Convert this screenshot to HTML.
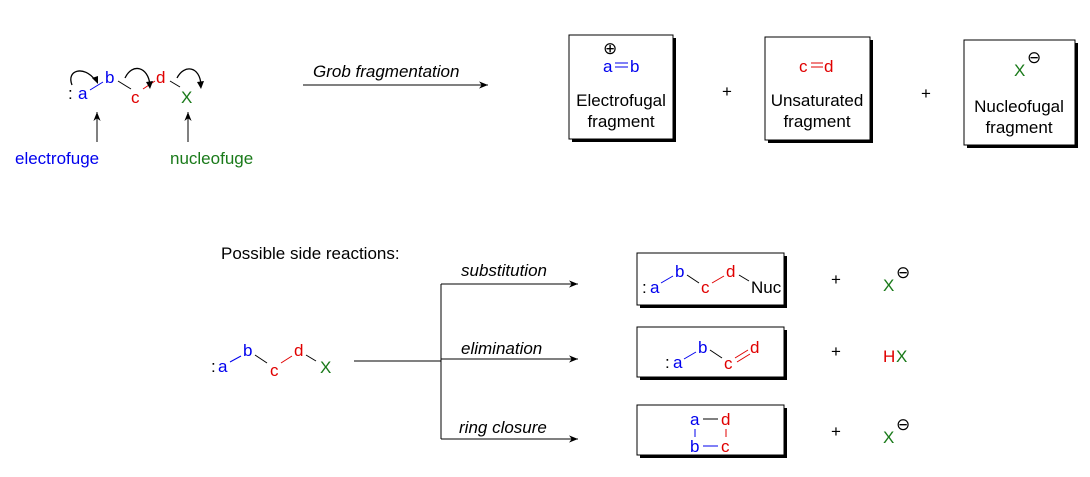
<!DOCTYPE html>
<html><head><style>body{margin:0;background:#fff}svg{display:block}text{font-family:"Liberation Sans",sans-serif;font-size:17px}</style></head><body>
<svg width="1090" height="477" viewBox="0 0 1090 477" xmlns="http://www.w3.org/2000/svg">
<defs><marker id="ah" viewBox="0 0 10 10" refX="10" refY="5" markerWidth="14" markerHeight="9" orient="auto" markerUnits="userSpaceOnUse"><path d="M0,1 L10,5 L0,9 L3,5Z" fill="#000"/></marker></defs>
<!-- top left molecule -->
<text x="68" y="99" fill="#000">:</text>
<text x="78" y="99" fill="#0000ee">a</text>
<text x="105" y="83" fill="#0000ee">b</text>
<text x="131" y="103" fill="#e00000">c</text>
<text x="156" y="83" fill="#e00000">d</text>
<text x="181" y="103" fill="#1a7a1a">X</text>
<line x1="90" y1="90" x2="103" y2="82" stroke="#0000ee" stroke-width="1"/>
<line x1="118" y1="81" x2="131" y2="89" stroke="#000" stroke-width="1"/>
<line x1="143" y1="89" x2="155" y2="81" stroke="#e00000" stroke-width="1"/>
<line x1="170" y1="81" x2="180" y2="87" stroke="#000" stroke-width="1"/>
<path d="M72,85 C66,70 84,65 95,80" fill="none" stroke="#000" stroke-width="1.3"/><path d="M92,78 l6,6 l0,-8z" fill="#000"/>
<path d="M125,78 C132,63 148,66 150,85" fill="none" stroke="#000" stroke-width="1.3"/><path d="M146,82 l4,7 l3,-8z" fill="#000"/>
<path d="M177,78 C184,64 200,66 201,85" fill="none" stroke="#000" stroke-width="1.3"/><path d="M197,82 l4,7 l3,-8z" fill="#000"/>
<line x1="97" y1="142" x2="97" y2="112" stroke="#000" marker-end="url(#ah)"/>
<line x1="188" y1="142" x2="188" y2="112" stroke="#000" marker-end="url(#ah)"/>
<text x="15" y="164" fill="#0000ee">electrofuge</text>
<text x="170" y="164" fill="#1a7a1a">nucleofuge</text>
<text x="313" y="77" font-style="italic">Grob fragmentation</text>
<line x1="303" y1="85" x2="488" y2="85" stroke="#000" marker-end="url(#ah)"/>
<!-- top boxes -->
<rect x="572" y="38" width="104" height="104" fill="#000"/><rect x="569" y="35" width="104" height="104" fill="#fff" stroke="#000"/>
<text x="603" y="54" font-size="13">⊕</text>
<text x="603" y="72" fill="#0000ee">a</text><text x="630" y="72" fill="#0000ee">b</text>
<line x1="615" y1="63" x2="628" y2="63" stroke="#0000ee"/><line x1="615" y1="67" x2="628" y2="67" stroke="#0000ee"/>
<text x="621" y="106" text-anchor="middle">Electrofugal</text><text x="621" y="127" text-anchor="middle">fragment</text>
<text x="727" y="97" text-anchor="middle" font-size="15">+</text>
<rect x="768" y="40" width="105" height="103" fill="#000"/><rect x="765" y="37" width="105" height="103" fill="#fff" stroke="#000"/>
<text x="799" y="72" fill="#e00000">c</text><text x="824" y="72" fill="#e00000">d</text>
<line x1="811" y1="63" x2="823" y2="63" stroke="#e00000"/><line x1="811" y1="67" x2="823" y2="67" stroke="#e00000"/>
<text x="817" y="106" text-anchor="middle">Unsaturated</text><text x="817" y="127" text-anchor="middle">fragment</text>
<text x="926" y="99" text-anchor="middle" font-size="15">+</text>
<rect x="967" y="43" width="111" height="105" fill="#000"/><rect x="964" y="40" width="111" height="105" fill="#fff" stroke="#000"/>
<text x="1014" y="76" fill="#1a7a1a">X</text><text x="1027" y="63" font-size="13">⊖</text>
<text x="1019" y="112" text-anchor="middle">Nucleofugal</text><text x="1019" y="133" text-anchor="middle">fragment</text>
<!-- bottom -->
<text x="221" y="259">Possible side reactions:</text>
<text x="211" y="372">:</text><text x="218" y="372" fill="#0000ee">a</text>
<text x="243" y="356" fill="#0000ee">b</text>
<text x="270" y="376" fill="#e00000">c</text>
<text x="294" y="356" fill="#e00000">d</text>
<text x="320" y="373" fill="#1a7a1a">X</text>
<line x1="230" y1="362" x2="241" y2="356" stroke="#0000ee"/>
<line x1="255" y1="355" x2="267" y2="363" stroke="#000"/>
<line x1="281" y1="363" x2="292" y2="356" stroke="#e00000"/>
<line x1="306" y1="355" x2="316" y2="361" stroke="#000"/>
<line x1="354" y1="361" x2="441" y2="361" stroke="#000"/>
<line x1="441" y1="284" x2="441" y2="439" stroke="#000"/>
<line x1="441" y1="284" x2="578" y2="284" stroke="#000" marker-end="url(#ah)"/>
<line x1="441" y1="359" x2="578" y2="359" stroke="#000" marker-end="url(#ah)"/>
<line x1="441" y1="439" x2="578" y2="439" stroke="#000" marker-end="url(#ah)"/>
<text x="461" y="276" font-style="italic">substitution</text>
<text x="461" y="354" font-style="italic">elimination</text>
<text x="459" y="433" font-style="italic">ring closure</text>
<rect x="640" y="256" width="147" height="52" fill="#000"/><rect x="637" y="253" width="147" height="52" fill="#fff" stroke="#000"/>
<text x="642" y="293">:</text><text x="650" y="293" fill="#0000ee">a</text>
<text x="675" y="277" fill="#0000ee">b</text><text x="701" y="293" fill="#e00000">c</text>
<text x="726" y="277" fill="#e00000">d</text><text x="751" y="293">Nuc</text>
<line x1="661" y1="283" x2="673" y2="276" stroke="#0000ee"/><line x1="687" y1="275" x2="699" y2="283" stroke="#000"/>
<line x1="712" y1="283" x2="724" y2="276" stroke="#e00000"/><line x1="739" y1="275" x2="749" y2="281" stroke="#000"/>
<text x="836" y="285" text-anchor="middle" font-size="15">+</text>
<text x="883" y="291" fill="#1a7a1a">X</text><text x="896" y="278" font-size="13">⊖</text>
<rect x="640" y="330" width="147" height="50" fill="#000"/><rect x="637" y="327" width="147" height="50" fill="#fff" stroke="#000"/>
<text x="665" y="368">:</text><text x="673" y="368" fill="#0000ee">a</text>
<text x="698" y="353" fill="#0000ee">b</text><text x="724" y="369" fill="#e00000">c</text>
<text x="750" y="353" fill="#e00000">d</text>
<line x1="684" y1="359" x2="696" y2="352" stroke="#0000ee"/><line x1="710" y1="350" x2="722" y2="358" stroke="#000"/>
<line x1="735" y1="358" x2="748" y2="350" stroke="#e00000"/><line x1="737" y1="362" x2="750" y2="354" stroke="#e00000"/>
<text x="836" y="357" text-anchor="middle" font-size="15">+</text>
<text x="883" y="362" fill="#e00000">H</text><text x="896" y="362" fill="#1a7a1a">X</text>
<rect x="640" y="408" width="147" height="50" fill="#000"/><rect x="637" y="405" width="147" height="50" fill="#fff" stroke="#000"/>
<text x="690" y="425" fill="#0000ee">a</text><text x="721" y="425" fill="#e00000">d</text>
<text x="690" y="452" fill="#0000ee">b</text><text x="721" y="452" fill="#e00000">c</text>
<line x1="703" y1="419" x2="718" y2="419" stroke="#000"/><line x1="703" y1="446" x2="718" y2="446" stroke="#0000ee"/>
<line x1="695" y1="429" x2="695" y2="437" stroke="#0000ee"/><line x1="726" y1="429" x2="726" y2="437" stroke="#e00000"/>
<text x="836" y="437" text-anchor="middle" font-size="15">+</text>
<text x="883" y="443" fill="#1a7a1a">X</text><text x="896" y="430" font-size="13">⊖</text>
</svg>
</body></html>
